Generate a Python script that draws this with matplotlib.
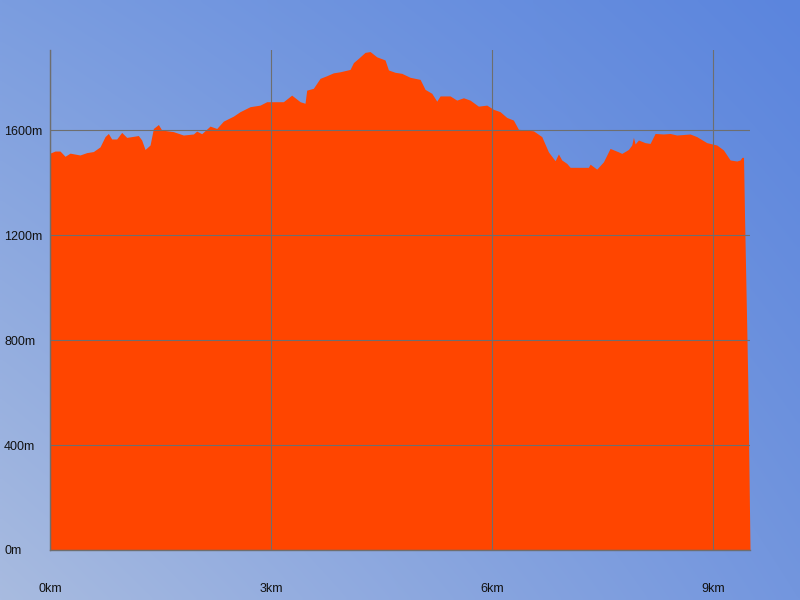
import numpy as np
import matplotlib
matplotlib.use("Agg")
import matplotlib.pyplot as plt

# elevation profile
dist_km = [0, 0.068, 0.136, 0.204, 0.272, 0.407, 0.498, 0.588, 0.679, 0.747,
           0.792, 0.837, 0.905, 0.973, 1.041, 1.199, 1.244, 1.290, 1.358, 1.403,
           1.471, 1.516, 1.674, 1.810, 1.946, 1.991, 2.059, 2.172, 2.263, 2.353,
           2.489, 2.579, 2.715, 2.851, 2.941, 3.167, 3.280, 3.394, 3.461, 3.484,
           3.574, 3.665, 3.756, 3.846, 3.937, 4.072, 4.118, 4.185, 4.276, 4.344,
           4.434, 4.547, 4.593, 4.683, 4.774, 4.887, 4.955, 5.023, 5.090, 5.181,
           5.249, 5.294, 5.430, 5.520, 5.611, 5.701, 5.814, 5.928, 6.018, 6.108,
           6.199, 6.289, 6.357, 6.561, 6.674, 6.764, 6.855, 6.900, 6.945, 7.013,
           7.059, 7.307, 7.330, 7.420, 7.511, 7.601, 7.714, 7.760, 7.850, 7.895,
           7.918, 7.941, 7.986, 8.076, 8.144, 8.212, 8.325, 8.416, 8.506, 8.687,
           8.777, 8.913, 9.049, 9.140, 9.230, 9.321, 9.366, 9.389, 9.412, 9.425,
           9.44, 9.455, 9.47, 9.48, 9.49, 9.50]
elev_m = [1512, 1520, 1520, 1500, 1512, 1505, 1514, 1518, 1536, 1575,
          1587, 1566, 1566, 1591, 1572, 1579, 1562, 1526, 1543, 1606,
          1621, 1600, 1594, 1581, 1585, 1596, 1586, 1615, 1606, 1634,
          1653, 1670, 1689, 1695, 1708, 1708, 1733, 1708, 1702, 1752,
          1759, 1797, 1807, 1818, 1822, 1831, 1857, 1873, 1896, 1899,
          1879, 1867, 1829, 1820, 1816, 1801, 1797, 1793, 1755, 1740,
          1710, 1730, 1730, 1714, 1723, 1714, 1691, 1695, 1679, 1670,
          1648, 1638, 1603, 1597, 1575, 1517, 1483, 1509, 1486, 1473,
          1458, 1458, 1470, 1451, 1479, 1530, 1517, 1511, 1526, 1543,
          1572, 1547, 1562, 1552, 1549, 1587, 1585, 1587, 1581, 1585,
          1575, 1552, 1543, 1524, 1486, 1482, 1486, 1496, 1496, 1283,
          1070, 857, 641, 427, 217, 0]

x_ticks = [0, 3, 6, 9]
x_labels = ["0km", "3km", "6km", "9km"]
y_ticks = [0, 400, 800, 1200, 1600]
y_labels = ["0m", "400m", "800m", "1200m", "1600m"]

plt.rcParams['font.family'] = ['Liberation Sans', 'DejaVu Sans']

fig = plt.figure(figsize=(8, 6), dpi=100)

# diagonal gradient background (bilinear from the four corners)
bg = fig.add_axes([0, 0, 1, 1], zorder=0)
tl = np.array([0x7b, 0x9d, 0xe0]) / 255
tr = np.array([0x5b, 0x85, 0xdd]) / 255
bl = np.array([0xa8, 0xbb, 0xe0]) / 255
br = np.array([0x73, 0x96, 0xde]) / 255
u = np.linspace(0, 1, 200)[None, :, None]
v = np.linspace(0, 1, 150)[:, None, None]
img = (1 - v) * ((1 - u) * tl + u * tr) + v * ((1 - u) * bl + u * br)
bg.imshow(img, aspect='auto', extent=[0, 1, 0, 1], interpolation='bilinear')
bg.axis('off')

ax = fig.add_axes([50 / 800, 50 / 600, 700 / 800, 500 / 600], zorder=1)
ax.set_facecolor('none')
ax.fill_between(dist_km, elev_m, 0, color='#ff4500', lw=0, zorder=1)

ax.set_xlim(0, 9.5)
ax.set_ylim(0, 1905)
ax.set_xticks(x_ticks)
ax.set_xticklabels(x_labels)
ax.set_yticks(y_ticks)
ax.set_yticklabels(y_labels, ha='left')
ax.tick_params(axis='y', length=0, pad=33, labelsize=9, labelcolor='#111111')
ax.tick_params(axis='x', length=0, pad=24, labelsize=9, labelcolor='#111111')

ax.grid(True, color='#6e6e6e', lw=0.8, zorder=2)
ax.set_axisbelow(False)
for s in ['top', 'right']:
    ax.spines[s].set_visible(False)
for s in ['left', 'bottom']:
    ax.spines[s].set_color('#6e6e6e')
    ax.spines[s].set_linewidth(1.0)

fig.savefig("out.png", dpi=100)
